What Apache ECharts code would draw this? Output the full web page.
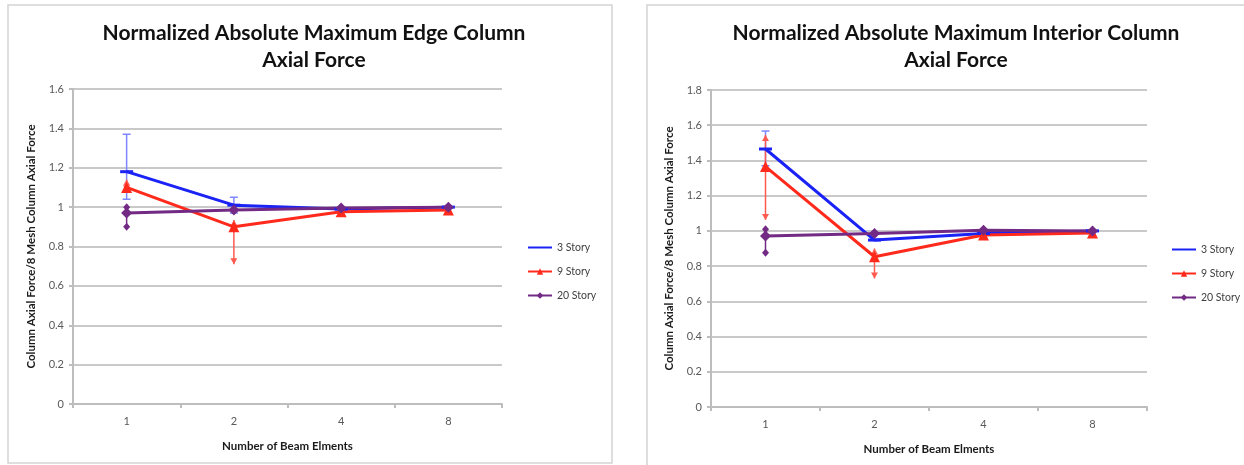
<!DOCTYPE html>
<html lang="en">
  <head>
    <meta charset="UTF-8" />
    <title>Normalized Column Axial Force</title>
    <script src="https://cdn.jsdelivr.net/npm/echarts@6/dist/echarts.min.js"></script>
    <style>
      html, body { margin: 0; padding: 0; background: #fff; }
      #chart { width: 1244px; height: 465px; }
    </style>
  </head>
  <body>
    <div id="chart"></div>
  </body>
</html>
<script>
  // data
  const categories = ["1", "2", "4", "8"];
  const seriesNames = ["3 Story", "9 Story", "20 Story"];

  const edge3 = [1.18, 1.01, 0.99, 1.0];
  const edge9 = [1.1, 0.9, 0.977, 0.985];
  const edge20 = [0.97, 0.985, 0.995, 1.0];
  const edge3Err = [[0, 1.04, 1.37], [1, 0.97, 1.05]];
  const edge9Err = [[0, 1.08, 1.14], [1, 0.71, 0.935]];
  const edge20Err = [[0, 0.9, 1.0]];

  const int3 = [1.465, 0.948, 0.985, 1.0];
  const int9 = [1.365, 0.853, 0.977, 0.988];
  const int20 = [0.971, 0.985, 1.003, 1.0];
  const int3Err = [[0, 1.37, 1.567]];
  const int9Err = [[0, 1.062, 1.545], [1, 0.73, 0.9]];
  const int20Err = [[0, 0.876, 1.01]];

  const BLUE = "#1a22f5";
  const RED = "#ff2a1c";
  const PURPLE = "#722a84";
  const FONT = "Lato";

  // error bar drawn through the axis scales
  function errorBar(cap, color) {
    return function (params, api) {
      const top = api.coord([api.value(0), api.value(2)]);
      const bot = api.coord([api.value(0), api.value(1)]);
      const x = top[0];
      const style = { stroke: color, lineWidth: 1.5 };
      const kids = [{ type: "line", shape: { x1: x, y1: top[1], x2: x, y2: bot[1] }, style: style }];
      if (cap === "T") {
        kids.push({ type: "line", shape: { x1: x - 4, y1: top[1], x2: x + 4, y2: top[1] }, style: style });
        kids.push({ type: "line", shape: { x1: x - 4, y1: bot[1], x2: x + 4, y2: bot[1] }, style: style });
      } else if (cap === "arrow") {
        kids.push({ type: "polygon", shape: { points: [[x - 3.5, top[1] + 6], [x + 3.5, top[1] + 6], [x, top[1]]] }, style: { fill: color } });
        kids.push({ type: "polygon", shape: { points: [[x - 3.5, bot[1] - 6], [x + 3.5, bot[1] - 6], [x, bot[1]]] }, style: { fill: color } });
      } else {
        [top[1], bot[1]].forEach(function (y) {
          kids.push({ type: "polygon", shape: { points: [[x, y - 4], [x + 3.5, y], [x, y + 4], [x - 3.5, y]] }, style: { fill: color } });
        });
      }
      return { type: "group", children: kids };
    };
  }

  function yAxis(idx, max) {
    return {
      type: "value", gridIndex: idx, min: 0, max: max, interval: 0.2,
      name: "Column Axial Force/8 Mesh Column Axial Force",
      nameLocation: "middle", nameGap: 36,
      nameTextStyle: { fontFamily: FONT, fontWeight: "bold", fontSize: 11.5, color: "#1a1a1a" },
      axisLine: { show: true, lineStyle: { color: "#bdbdbd", width: 2 } },
      axisTick: { show: true, length: 4, lineStyle: { color: "#bdbdbd", width: 2 } },
      axisLabel: { fontFamily: FONT, fontSize: 11, color: "#595959", margin: 9 },
      splitLine: { lineStyle: { color: "#c9c9c9", width: 2 } }
    };
  }

  function xAxis(idx) {
    return {
      type: "category", gridIndex: idx, data: categories, boundaryGap: true,
      name: "Number of Beam Elments",
      nameLocation: "middle", nameGap: 36,
      nameTextStyle: { fontFamily: FONT, fontWeight: "bold", fontSize: 11.5, color: "#1a1a1a" },
      axisLine: { lineStyle: { color: "#bdbdbd", width: 2 } },
      axisTick: { show: true, length: 4, lineStyle: { color: "#bdbdbd", width: 2 } },
      axisLabel: { fontFamily: FONT, fontSize: 11, color: "#595959", margin: 12 }
    };
  }

  function lineSeries(idx, name, data, color, symbol, size) {
    return {
      type: "line", name: name, xAxisIndex: idx, yAxisIndex: idx, data: data,
      symbol: symbol, symbolSize: size, showSymbol: true,
      lineStyle: { color: color, width: 3 }, itemStyle: { color: color },
      z: 3
    };
  }

  function errSeries(idx, name, data, cap, color) {
    return {
      type: "custom", name: name, xAxisIndex: idx, yAxisIndex: idx, data: data,
      itemStyle: { color: color },
      renderItem: errorBar(cap, color), z: 2, encode: { x: 0, y: [1, 2] }
    };
  }

  // the dash marker of "3 Story" is not visible in the legend swatch
  const legendData = [{ name: seriesNames[0], itemStyle: { opacity: 0 } }, seriesNames[1], seriesNames[2]];

  const chart = echarts.init(document.getElementById("chart"));
  const titleStyle = { fontFamily: FONT, fontWeight: "bold", fontSize: 21, color: "#111", lineHeight: 27 };
  const legendStyle = { fontFamily: FONT, fontSize: 10.5, color: "#404040" };
  const option = {
    animation: false,
    backgroundColor: "#fff",
    graphic: [
      { type: "rect", shape: { x: 8, y: 5, width: 604, height: 458 }, style: { fill: "none", stroke: "#d4d4d4", lineWidth: 1.5 } },
      { type: "rect", shape: { x: 647, y: 5, width: 620, height: 480 }, style: { fill: "none", stroke: "#d4d4d4", lineWidth: 1.5 } }
    ],
    title: [
      { text: "Normalized Absolute Maximum Edge Column\nAxial Force", left: 309, top: 15, textAlign: "center", textStyle: titleStyle },
      { text: "Normalized Absolute Maximum Interior Column\nAxial Force", left: 951, top: 15, textAlign: "center", textStyle: titleStyle }
    ],
    legend: [
      { orient: "vertical", left: 522, top: 237, itemWidth: 24, itemHeight: 8, itemGap: 13, textStyle: legendStyle, data: legendData },
      { orient: "vertical", left: 1166, top: 239, itemWidth: 24, itemHeight: 8, itemGap: 13, textStyle: legendStyle, data: legendData }
    ],
    grid: [
      { left: 73, top: 89, width: 429, height: 315 },
      { left: 711, top: 90, width: 436, height: 317 }
    ],
    xAxis: [xAxis(0), xAxis(1)],
    yAxis: [yAxis(0, 1.6), yAxis(1, 1.8)],
    series: [
      lineSeries(0, "3 Story", edge3, BLUE, "rect", [13, 3]),
      lineSeries(0, "9 Story", edge9, RED, "triangle", 11),
      lineSeries(0, "20 Story", edge20, PURPLE, "diamond", 11),
      lineSeries(1, "3 Story", int3, BLUE, "rect", [13, 3]),
      lineSeries(1, "9 Story", int9, RED, "triangle", 11),
      lineSeries(1, "20 Story", int20, PURPLE, "diamond", 11),

      errSeries(0, "3 Story", edge3Err, "T", "#7d86ff"),
      errSeries(0, "9 Story", edge9Err, "arrow", "#ff5a50"),
      errSeries(0, "20 Story", edge20Err, "diamond", PURPLE),
      errSeries(1, "3 Story", int3Err, "T", "#7d86ff"),
      errSeries(1, "9 Story", int9Err, "arrow", "#ff5a50"),
      errSeries(1, "20 Story", int20Err, "diamond", PURPLE)
    ]
  };
  chart.setOption(option);
</script>
